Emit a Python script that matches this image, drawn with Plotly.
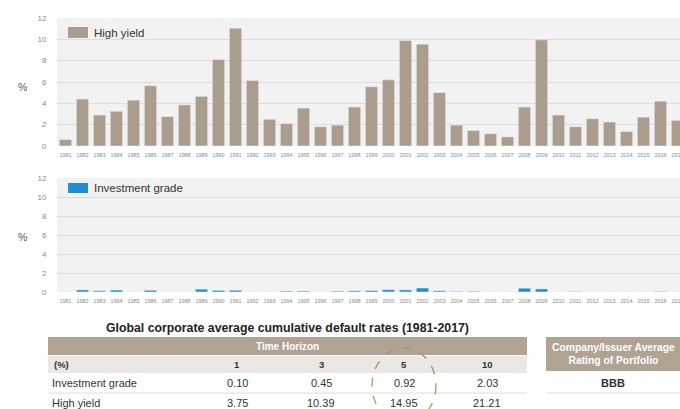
import plotly.graph_objects as go

# ---- data -------------------------------------------------------------
years = list(range(1981, 2018))
high_yield = [0.6, 4.4, 2.9, 3.25, 4.3, 5.65, 2.75, 3.85, 4.65, 8.1, 11.05, 6.15,
              2.5, 2.1, 3.55, 1.8, 1.95, 3.65, 5.55, 6.2, 9.9, 9.55, 5.0, 1.95,
              1.45, 1.15, 0.85, 3.65, 9.95, 2.9, 1.8, 2.55, 2.25, 1.35, 2.7, 4.2, 2.4]
investment_grade = [0.0, 0.22, 0.12, 0.2, 0.0, 0.18, 0.0, 0.0, 0.3, 0.17, 0.18, 0.0,
                    0.0, 0.09, 0.09, 0.0, 0.08, 0.12, 0.15, 0.24, 0.22, 0.42, 0.12, 0.06,
                    0.06, 0.0, 0.0, 0.4, 0.32, 0.0, 0.05, 0.0, 0.0, 0.0, 0.0, 0.05, 0.0]

table_title = "Global corporate average cumulative default rates (1981-2017)"
horizon_label = "Time Horizon"
horizons = ["1", "3", "5", "10"]
row_labels = ["Investment grade", "High yield"]
ig_cumulative = ["0.10", "0.45", "0.92", "2.03"]
hy_cumulative = ["3.75", "10.39", "14.95", "21.21"]
rating_header = ["Company/Issuer Average", "Rating of Portfolio"]
portfolio_rating = "BBB"

# ---- styling ------------------------------------------------------------
W, H = 680, 409
HY_COLOR = "#ab9d8e"
IG_COLOR = "#1f8ed6"
BAND = "#b1a393"
FONT = "Arial, Liberation Sans, sans-serif"


def px(x):
    return x / W


def py(y):
    return 1 - y / H


def label(x, y, text, size, color="#333333", xanchor="center"):
    return dict(x=px(x), y=py(y), text=text, showarrow=False, xref="paper", yref="paper",
                xanchor=xanchor, yanchor="middle", font=dict(size=size, color=color))


fig = go.Figure()
fig.add_trace(go.Bar(x=years, y=high_yield, marker_color=HY_COLOR, width=0.72,
                     xaxis="x", yaxis="y", name="High yield", showlegend=False))
fig.add_trace(go.Bar(x=years, y=investment_grade, marker_color=IG_COLOR, width=0.72,
                     xaxis="x2", yaxis="y2", name="Investment grade", showlegend=False))

x_common = dict(range=[1980.5, 1980.5 + 623 / 17], tickvals=years,
                ticktext=[str(y) for y in years], tickfont=dict(size=5.5, color="#8a8a8a"),
                showgrid=False, zeroline=False, showline=False, tickangle=0,
                ticklabeloverflow="allow", automargin=False,
                ticks="outside", ticklen=3, tickcolor="rgba(0,0,0,0)", domain=[px(57), 1])
y_common = dict(range=[0, 12], dtick=2, gridcolor="#dddddd", gridwidth=1, zeroline=False,
                showline=False, tickfont=dict(size=8, color="#8a8a8a"), automargin=False,
                ticks="outside", ticklen=8, tickcolor="rgba(0,0,0,0)")

fig.update_layout(
    width=W, height=H, margin=dict(l=0, r=0, t=0, b=0),
    paper_bgcolor="white", plot_bgcolor="#f2f2f2",
    font=dict(family=FONT, color="#333333"),
    bargap=0.28,
    xaxis=dict(anchor="y", **x_common),
    yaxis=dict(anchor="x", domain=[py(146), py(18)], **y_common),
    xaxis2=dict(anchor="y2", **x_common),
    yaxis2=dict(anchor="x2", domain=[py(292), py(178)], **y_common),
)

shapes = []
annotations = []

# axis unit labels
for yy in (87, 237):
    annotations.append(label(22, yy, "%", 10.5, "#555555"))

# in-plot legend swatches
for (y0, y1, color, name) in [(27, 38, HY_COLOR, "High yield"),
                              (183, 193, IG_COLOR, "Investment grade")]:
    shapes.append(dict(type="rect", xref="paper", yref="paper", x0=px(68), x1=px(88),
                       y0=py(y1), y1=py(y0), fillcolor=color, line=dict(width=0)))
    annotations.append(label(92, (y0 + y1) / 2, name, 11.5, xanchor="left"))

# ---- summary table ------------------------------------------------------
annotations.append(label(287, 328, "<b>%s</b>" % table_title, 12.3, "#222222"))

# header band and column header row
shapes.append(dict(type="rect", xref="paper", yref="paper", x0=px(48), x1=px(527),
                   y0=py(355), y1=py(337), fillcolor=BAND, line=dict(width=0)))
shapes.append(dict(type="rect", xref="paper", yref="paper", x0=px(48), x1=px(527),
                   y0=py(373), y1=py(356), fillcolor="#ebe8e4", line=dict(width=0)))
annotations.append(label(287, 346, "<b>%s</b>" % horizon_label, 10, "white"))

col_x = [237, 321, 404, 487]
annotations.append(label(52, 364.5, "<b>(%)</b>", 9.5, xanchor="left"))
for cx, h in zip(col_x, horizons):
    annotations.append(label(cx, 364.5, "<b>%s</b>" % h, 9.5))

row_y = [383, 403]
for ry, name, vals in zip(row_y, row_labels, [ig_cumulative, hy_cumulative]):
    annotations.append(label(50, ry, name, 11, xanchor="left"))
    for cx, v in zip(col_x, vals):
        annotations.append(label(cx, ry, v, 11))

for ly in (393, 412):
    shapes.append(dict(type="line", xref="paper", yref="paper", x0=px(48), x1=px(527),
                       y0=py(ly), y1=py(ly), line=dict(color="#dedede", width=1)))

# portfolio rating box
shapes.append(dict(type="rect", xref="paper", yref="paper", x0=px(546), x1=px(682),
                   y0=py(371), y1=py(337), fillcolor=BAND, line=dict(width=0)))
annotations.append(label(613, 354, "<b>%s<br>%s</b>" % tuple(rating_header), 10.3, "white"))
annotations.append(label(613, 383, "<b>%s</b>" % portfolio_rating, 11))
shapes.append(dict(type="line", xref="paper", yref="paper", x0=px(546), x1=px(682),
                   y0=py(393), y1=py(393), line=dict(color="#dedede", width=1)))

# dashed highlight around the 5-year column
shapes.append(dict(type="circle", xref="paper", yref="paper", x0=px(372), x1=px(436),
                   y0=py(423), y1=py(348), line=dict(color="#93a06e", width=1.3, dash="dash")))

fig.update_layout(shapes=shapes, annotations=annotations)
fig.write_html("out.html")
